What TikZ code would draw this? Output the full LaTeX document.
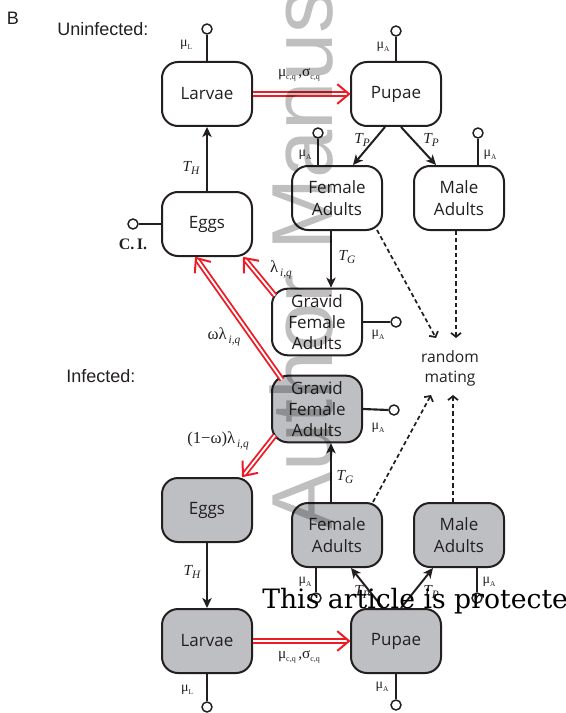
\documentclass[tikz,border=0pt]{standalone}
\usepackage{fontspec}
\setmainfont{Liberation Sans}
\newfontfamily\boxfont{Open Sans}
\newfontfamily\serif{Liberation Serif}
\newfontfamily\dvserif{DejaVu Serif}
\usetikzlibrary{arrows.meta,calc}
\definecolor{ink}{RGB}{35,31,32}
\definecolor{boxgray}{RGB}{190,191,194}
\definecolor{flowred}{RGB}{237,28,36}
\newcommand{\mulab}[1]{{\serif\fontsize{10.5}{12}\selectfont μ\raisebox{-0.5ex}{\fontsize{5.5}{6}\selectfont #1}}}
\newcommand{\tlab}[2]{{\serif\fontsize{11.5}{13}\selectfont\itshape #1\raisebox{-0.45ex}{\fontsize{8.5}{9}\selectfont #2}}}
\newcommand{\iqsub}{\raisebox{-0.5ex}{\fontsize{8.5}{9}\selectfont\itshape\,i,q}}
\newcommand{\cqsub}{\raisebox{-0.5ex}{\fontsize{6}{6}\selectfont c,q}}
\newcommand{\redarrow}[2]{%
  \draw[redflow] (#1) -- (#2);
  \draw[redtip] ($(#2)!11.5pt!40:(#1)$) -- (#2) -- ($(#2)!11.5pt!-40:(#1)$);}
\begin{document}
\begin{tikzpicture}[x=0.75pt,y=-0.75pt,
  box/.style={draw=ink, line width=1.5pt, rounded corners=12pt, fill=white,
    minimum width=67.5pt, minimum height=48pt, inner sep=0pt, align=center,
    text=ink, font=\boxfont\fontsize{12.75}{17}\selectfont},
  gbox/.style={box, minimum height=50pt, font=\boxfont\fontsize{12.75}{15.75}\selectfont},
  inf/.style={fill=boxgray},
  dot/.style={circle, draw=ink, line width=1.1pt, fill=white, minimum size=7.5pt, inner sep=0pt},
  stub/.style={draw=ink, line width=1.6pt},
  flow/.style={draw=ink, line width=1.5pt, -{Stealth[length=7.5pt,width=7pt,inset=2pt]}},
  mate/.style={draw=ink, line width=1.3pt, dash pattern=on 3.2pt off 2.2pt, -{Straight Barb[length=3pt,width=7.5pt]}},
  redflow/.style={draw=flowred, line width=1.4pt, double=white, double distance=1.4pt, shorten >=2pt},
  redtip/.style={draw=flowred, line width=1.5pt, line join=miter},
  lab/.style={inner sep=0pt, text=ink}
]
\useasboundingbox (0,0) rectangle (566,713);
\clip (0,0) rectangle (566,713);

% headings
\node[lab, font=\fontsize{13.5}{14}\selectfont] (B) at (13,18) {B};
\node[lab, anchor=west, font=\fontsize{13.5}{14}\selectfont] (unin) at (57,29) {Uninfected:};
\node[lab, anchor=west, font=\fontsize{13.5}{14}\selectfont] (infd) at (66,376) {Infected:};

% uninfected boxes
\node[box] (Lu) at (207,94) {Larvae};
\node[box] (Pu) at (396,94) {Pupae};
\node[box] (Eu) at (207,224) {Eggs};
\node[box] (Fu) at (337,198) {Female\\Adults};
\node[box] (Mu) at (459,198) {Male\\Adults};
\node[gbox] (Gu) at (317,322) {Gravid\\Female\\Adults};

% infected boxes
\node[gbox, inf] (Gi) at (317,409) {Gravid\\Female\\Adults};
\node[box, inf] (Ei) at (207,510) {Eggs};
\node[box, inf] (Li) at (207,641) {Larvae};
\node[box, inf] (Fi) at (337,535) {Female\\Adults};
\node[box, inf] (Mi) at (459,535) {Male\\Adults};
\node[box, inf] (Pi) at (396,641) {Pupae};

% random mating
\node[lab, align=center, font=\boxfont\fontsize{11.7}{15}\selectfont] (rm) at (450,368) {random\\mating};

% mortality stubs
\node[dot] (dLu) at (207,29) {};
\node[dot] (dPu) at (396,31) {};
\node[dot] (dFu) at (318,133) {};
\node[dot] (dMu) at (478,133) {};
\node[dot] (dEu) at (133,224) {};
\node[dot] (dGu) at (396,322) {};
\node[dot] (dGi) at (394,410) {};
\node[dot] (dFi) at (316,598) {};
\node[dot] (dMi) at (477,598) {};
\node[dot] (dPi) at (396,705) {};
\node[dot] (dLi) at (207,707) {};
\draw[stub] (Lu.north) -- (dLu.south);
\draw[stub] (Pu.north) -- (dPu.south);
\draw[stub] (dFu |- Fu.north) -- (dFu.south);
\draw[stub] (dMu |- Mu.north) -- (dMu.south);
\draw[stub] (Eu.west) -- (dEu.east);
\draw[stub] (Gu.east) -- (dGu.west);
\draw[stub] (Gi.east) -- (dGi.west);
\draw[stub] (dFi |- Fi.south) -- (dFi.north);
\draw[stub] (dMi |- Mi.south) -- (dMi.north);
\draw[stub] (Pi.south) -- (dPi.north);
\draw[stub] (Li.south) -- (dLi.north);

\node[lab] (mLu) at (186,45) {\mulab{L}};
\node[lab] (mPu) at (383,47) {\mulab{A}};
\node[lab] (mFu) at (305,155) {\mulab{A}};
\node[lab] (mMu) at (490,155) {\mulab{A}};
\node[lab, font=\serif\bfseries\fontsize{12}{13}\selectfont] (ci) at (133,244) {C.\,I.};
\node[lab] (mGu) at (378,335) {\mulab{A}};
\node[lab] (mGi) at (378,428) {\mulab{A}};
\node[lab] (mFi) at (305,582) {\mulab{A}};
\node[lab] (mMi) at (489,582) {\mulab{A}};
\node[lab] (mPi) at (382,687) {\mulab{A}};
\node[lab] (mLi) at (187,690) {\mulab{L}};

% black transitions
\draw[flow] (Eu.north) -- (Lu.south);
\draw[flow] ($(Pu.south)+(-11,0)$) -- ($(Fu.north)+(16,0)$);
\draw[flow] ($(Pu.south)+(5,0)$) -- ($(Mu.north)+(-23,0)$);
\draw[flow] ($(Fu.south)+(-6,0)$) -- ($(Gu.north)+(14,0)$);
\draw[flow] ($(Fi.north)+(-6,0)$) -- ($(Gi.south)+(14,0)$);
\draw[flow] ($(Pi.north)+(-13,0)$) -- ($(Fi.south)+(14,0)$);
\draw[flow] ($(Pi.north)+(5,0)$) -- ($(Mi.south)+(-26,0)$);
\draw[flow] (Ei.south) -- (Li.north);

\node[lab] (tH1) at (191,168) {\tlab{T}{H}};
\node[lab] (tP1) at (362,140) {\tlab{T}{P}};
\node[lab] (tP2) at (431,140) {\tlab{T}{P}};
\node[lab] (tG1) at (347,257) {\tlab{T}{G}};
\node[lab] (tG2) at (345,477) {\tlab{T}{G}};
\node[lab] (tP3) at (362,592) {\tlab{T}{P}};
\node[lab] (tP4) at (431,592) {\tlab{T}{P}};
\node[lab] (tH2) at (192,572) {\tlab{T}{H}};

% red transitions
\coordinate (rA1) at (Lu.east);
\coordinate (rA2) at ($(Pu.west)+(-1,0)$);
\coordinate (rB1) at (Li.east);
\coordinate (rB2) at ($(Pi.west)+(-1,0)$);
\coordinate (rC1) at ($(Gu.north west)+(4,8)$);
\coordinate (rC2) at ($(Eu.south east)+(-9,1)$);
\coordinate (rD1) at ($(Gi.north west)+(11,5)$);
\coordinate (rD2) at ($(Eu.south)+(-11,1)$);
\coordinate (rE1) at ($(Gi.south west)+(4,-8)$);
\coordinate (rE2) at ($(Ei.north east)+(-10,-1)$);
\redarrow{rA1}{rA2}
\redarrow{rB1}{rB2}
\redarrow{rC1}{rC2}
\redarrow{rD1}{rD2}
\redarrow{rE1}{rE2}

\node[lab, font=\serif\fontsize{11.5}{13}\selectfont] (cq1) at (299,75) {μ\cqsub\,,σ\cqsub};
\node[lab, font=\serif\fontsize{11.5}{13}\selectfont] (cq2) at (299,657) {μ\cqsub\,,σ\cqsub};
\node[lab, font=\serif\fontsize{12.5}{14}\selectfont] (l1) at (281,270) {λ\iqsub};
\node[lab, font=\serif\fontsize{12.5}{14}\selectfont] (l2) at (224,337) {ωλ\iqsub};
\node[lab, font=\serif\fontsize{12.5}{14}\selectfont] (l3) at (218,441) {(1−ω)λ\iqsub};

% mating
\coordinate (m1) at (436,338);
\coordinate (m2) at (456,338);
\coordinate (m3) at (431,395);
\coordinate (m4) at (453,395);
\draw[mate] ($(Fu.south east)+(-6,-1)$) -- (m1);
\draw[mate] ($(Mu.south)+(-3,0)$) -- (m2);
\draw[mate] ($(Fi.north east)+(-10,0)$) -- (m3);
\draw[mate] ($(Mi.north)+(-6,0)$) -- (m4);

% watermark and overprinted notice
\node[rotate=90, anchor=base west, inner sep=0pt, text=black, text opacity=0.25,
  font=\fontsize{65}{65}\selectfont] (wm) at (332,530) {Author Manuscript};
\node[anchor=base west, inner sep=0pt, text=black,
  font=\dvserif\fontsize{20}{20}\selectfont] (note) at (262,608) {This article is protected};
\end{tikzpicture}
\end{document}
